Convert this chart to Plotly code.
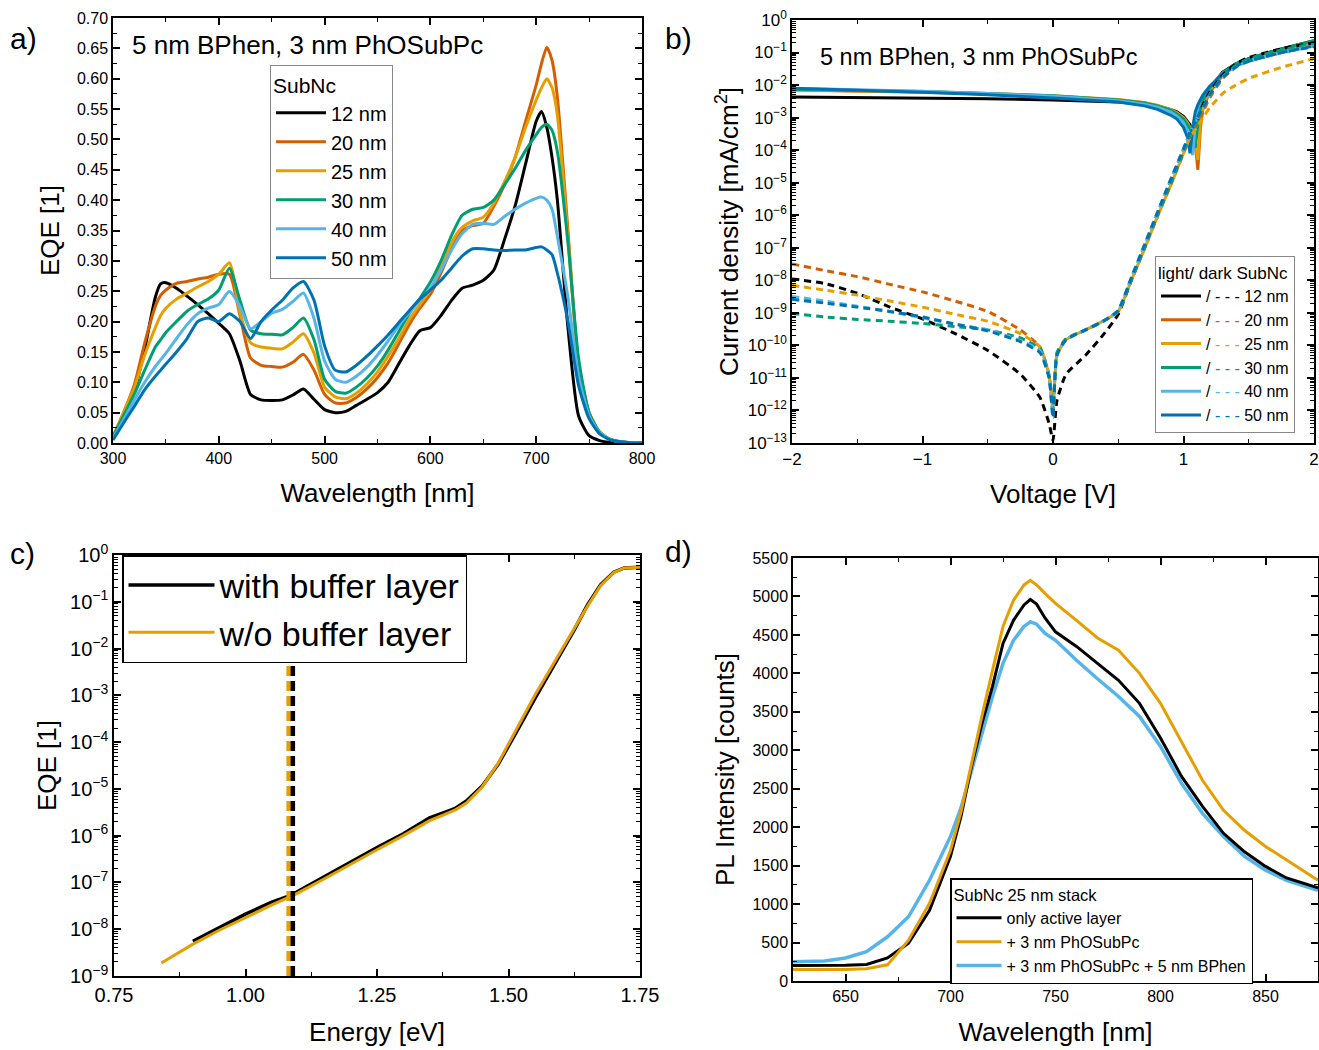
import plotly.graph_objects as go

# ---------------- Panel a: EQE spectra ----------------
wl_a = [300, 310, 320, 330, 340, 345, 350, 360, 370, 380, 390, 400, 410, 420, 430, 440, 450, 460, 470, 480,
        490, 500, 510, 520, 530, 540, 550, 560, 570, 580, 590, 600, 610, 620, 630, 640, 650, 660, 670, 680,
        690, 700, 705, 710, 715, 720, 730, 740, 750, 760, 770, 780, 790, 800]
eqe_12 = [0.01, 0.045, 0.085, 0.155, 0.24, 0.262, 0.264, 0.255, 0.242, 0.228, 0.213, 0.197, 0.18, 0.135, 0.08, 0.071, 0.07, 0.071, 0.079, 0.089,
          0.072, 0.055, 0.05, 0.052, 0.062, 0.072, 0.083, 0.10, 0.13, 0.16, 0.185, 0.19, 0.21, 0.235, 0.255, 0.26, 0.268, 0.285, 0.335, 0.39,
          0.46, 0.53, 0.546, 0.52, 0.47, 0.40, 0.19, 0.045, 0.012, 0.004, 0.001, 0.0, 0.0, 0.0]
eqe_20 = [0.01, 0.05, 0.095, 0.165, 0.225, 0.243, 0.252, 0.263, 0.266, 0.27, 0.273, 0.278, 0.278, 0.21, 0.14, 0.128, 0.126, 0.125, 0.133, 0.146,
          0.12, 0.08, 0.066, 0.066, 0.075, 0.089, 0.108, 0.132, 0.163, 0.195, 0.222, 0.245, 0.28, 0.32, 0.35, 0.358, 0.362, 0.39, 0.425, 0.47,
          0.53, 0.59, 0.625, 0.652, 0.63, 0.57, 0.35, 0.13, 0.05, 0.018, 0.006, 0.002, 0.0005, 0.0]
eqe_25 = [0.01, 0.05, 0.09, 0.145, 0.19, 0.21, 0.222, 0.237, 0.247, 0.257, 0.266, 0.278, 0.297, 0.215, 0.165, 0.158, 0.156, 0.155, 0.166, 0.18,
          0.148, 0.092, 0.076, 0.073, 0.082, 0.097, 0.117, 0.143, 0.172, 0.203, 0.228, 0.252, 0.29, 0.33, 0.355, 0.366, 0.372, 0.395, 0.43, 0.47,
          0.52, 0.565, 0.585, 0.60, 0.585, 0.54, 0.34, 0.13, 0.05, 0.018, 0.006, 0.002, 0.0005, 0.0]
eqe_30 = [0.01, 0.045, 0.08, 0.12, 0.158, 0.17, 0.182, 0.2, 0.217, 0.228, 0.237, 0.252, 0.288, 0.235, 0.186, 0.18, 0.179, 0.178, 0.19, 0.206,
          0.17, 0.105, 0.085, 0.082, 0.092, 0.107, 0.127, 0.153, 0.183, 0.213, 0.238, 0.265, 0.30, 0.342, 0.375, 0.385, 0.388, 0.40, 0.425, 0.452,
          0.482, 0.508, 0.52, 0.525, 0.515, 0.48, 0.33, 0.14, 0.05, 0.018, 0.006, 0.002, 0.0005, 0.0]
eqe_40 = [0.008, 0.038, 0.07, 0.10, 0.126, 0.137, 0.148, 0.172, 0.195, 0.213, 0.222, 0.228, 0.25, 0.225, 0.188, 0.20, 0.214, 0.22, 0.233, 0.247,
          0.205, 0.135, 0.105, 0.10, 0.11, 0.125, 0.145, 0.168, 0.193, 0.215, 0.235, 0.255, 0.285, 0.318, 0.345, 0.36, 0.362, 0.36, 0.373, 0.385,
          0.395, 0.403, 0.405, 0.40, 0.385, 0.34, 0.24, 0.11, 0.045, 0.017, 0.006, 0.002, 0.0005, 0.0]
eqe_50 = [0.005, 0.033, 0.06, 0.088, 0.11, 0.12, 0.13, 0.15, 0.172, 0.20, 0.206, 0.20, 0.213, 0.20, 0.172, 0.20, 0.219, 0.235, 0.255, 0.266,
          0.235, 0.16, 0.12, 0.117, 0.128, 0.143, 0.16, 0.178, 0.198, 0.218, 0.237, 0.252, 0.268, 0.288, 0.308, 0.32, 0.32, 0.318, 0.317, 0.318,
          0.318, 0.322, 0.323, 0.318, 0.31, 0.28, 0.20, 0.095, 0.04, 0.015, 0.005, 0.002, 0.0005, 0.0]
a_names = ["12 nm", "20 nm", "25 nm", "30 nm", "40 nm", "50 nm"]
a_series = [eqe_12, eqe_20, eqe_25, eqe_30, eqe_40, eqe_50]
colors6 = ["#000000", "#D55E00", "#E69F00", "#009E73", "#56B4E9", "#0072B2"]

# ---------------- Panel b: J-V curves ----------------
v_light = [-2.0, -1.5, -1.0, -0.5, 0.0, 0.5, 0.7, 0.8, 0.9, 0.95, 1.0, 1.03, 1.05, 1.07, 1.09, 1.11, 1.13, 1.15,
           1.2, 1.3, 1.4, 1.5, 1.75, 2.0]
j_light_12 = [4.3e-3, 4.2e-3, 4.0e-3, 3.8e-3, 3.5e-3, 3.0e-3, 2.6e-3, 2.3e-3, 1.8e-3, 1.5e-3, 1.1e-3, 8e-4, 6e-4, 3.5e-4, 2.5e-4, 9e-4, 2e-3, 3.5e-3,
              8e-3, 2.5e-2, 4.5e-2, 6.5e-2, 1.3e-1, 2.3e-1]
j_light_20 = [7e-3, 6.5e-3, 6e-3, 5.3e-3, 4.5e-3, 3.5e-3, 2.8e-3, 2.3e-3, 1.7e-3, 1.3e-3, 9e-4, 6e-4, 4.5e-4, 3e-4, 1.5e-4, 2.5e-5, 5e-4, 2e-3,
              6e-3, 2e-2, 4e-2, 6e-2, 1.2e-1, 2.2e-1]
j_light_25 = [7e-3, 6.7e-3, 6.2e-3, 5.5e-3, 4.7e-3, 3.6e-3, 2.9e-3, 2.4e-3, 1.8e-3, 1.4e-3, 1e-3, 7e-4, 5e-4, 3.5e-4, 2e-4, 5e-5, 8e-4, 2.5e-3,
              7e-3, 2.2e-2, 4.2e-2, 6e-2, 1.2e-1, 2.1e-1]
j_light_30 = [7.5e-3, 7e-3, 6.3e-3, 5.5e-3, 4.7e-3, 3.5e-3, 2.8e-3, 2.3e-3, 1.7e-3, 1.3e-3, 9e-4, 6e-4, 4.5e-4, 3e-4, 1.2e-4, 6e-4, 2e-3, 3.5e-3,
              8e-3, 2.4e-2, 4.5e-2, 6.5e-2, 1.3e-1, 2.3e-1]
j_light_40 = [8e-3, 7.3e-3, 6.5e-3, 5.5e-3, 4.5e-3, 3.3e-3, 2.6e-3, 2.1e-3, 1.5e-3, 1.1e-3, 7e-4, 4e-4, 2.5e-4, 7e-5, 6e-4, 2e-3, 3.5e-3, 5e-3,
              9e-3, 2.2e-2, 4e-2, 5.5e-2, 1e-1, 1.7e-1]
j_light_50 = [8e-3, 7e-3, 6e-3, 5e-3, 4e-3, 3e-3, 2.3e-3, 1.8e-3, 1.2e-3, 9e-4, 5e-4, 2.5e-4, 8e-5, 5e-4, 1.5e-3, 2.5e-3, 3.5e-3, 5e-3,
              9e-3, 2.2e-2, 4e-2, 5.5e-2, 1e-1, 1.6e-1]
v_dark = [-2.0, -1.75, -1.5, -1.25, -1.0, -0.75, -0.5, -0.25, -0.1, -0.03, 0.0, 0.03, 0.1, 0.25, 0.4, 0.5, 0.6, 0.7, 0.8, 0.9,
          1.0, 1.05, 1.1, 1.15, 1.2, 1.3, 1.4, 1.5, 1.75, 2.0]
j_dark_12 = [1.1e-8, 8e-9, 4e-9, 1.5e-9, 6.5e-10, 2.3e-10, 7e-11, 1.3e-11, 2.5e-12, 4e-13, 1.2e-13, 2e-12, 1.3e-11, 5e-11, 2.5e-10, 9e-10, 1e-8, 1e-7, 1e-6, 1e-5,
             1e-4, 3e-4, 8e-4, 2.5e-3, 6e-3, 2e-2, 4.5e-2, 7e-2, 1.3e-1, 2e-1]
j_dark_20 = [3.2e-8, 2e-8, 1.3e-8, 7.5e-9, 4.4e-9, 2.3e-9, 1.1e-9, 3e-10, 9e-11, 1.2e-11, 1e-12, 5e-11, 1.5e-10, 3e-10, 6e-10, 1.1e-9, 1e-8, 9e-8, 9e-7, 8e-6,
             8e-5, 2.5e-4, 6e-4, 1.5e-3, 4e-3, 1.6e-2, 3.5e-2, 6e-2, 1.1e-1, 1.8e-1]
j_dark_25 = [7e-9, 5e-9, 3.5e-9, 2.3e-9, 1.5e-9, 9e-10, 5.5e-10, 2.3e-10, 9e-11, 1.2e-11, 1e-12, 5e-11, 1.5e-10, 3e-10, 6e-10, 1.1e-9, 1e-8, 9e-8, 9e-7, 8e-6,
             8e-5, 2.5e-4, 5e-4, 1e-3, 2e-3, 5.5e-3, 1e-2, 1.6e-2, 3.5e-2, 6.5e-2]
j_dark_30 = [9.5e-10, 7.5e-10, 6.3e-10, 5.5e-10, 4.7e-10, 3.8e-10, 3e-10, 1.7e-10, 8e-11, 1.2e-11, 1e-12, 6e-11, 1.6e-10, 3e-10, 6e-10, 1.1e-9, 1e-8, 1e-7, 1e-6, 9e-6,
             9e-5, 3e-4, 8e-4, 2e-3, 5e-3, 1.8e-2, 4e-2, 6.5e-2, 1.2e-1, 1.9e-1]
j_dark_40 = [3.2e-9, 2.3e-9, 1.6e-9, 1.1e-9, 7e-10, 4.5e-10, 3e-10, 1.4e-10, 7e-11, 1e-11, 6e-13, 5e-11, 1.5e-10, 3e-10, 6e-10, 1.2e-9, 1.2e-8, 1.2e-7, 1.2e-6, 1.2e-5,
             1.1e-4, 3.5e-4, 9e-4, 2e-3, 5e-3, 1.7e-2, 3.6e-2, 5.5e-2, 1e-1, 1.6e-1]
j_dark_50 = [2.6e-9, 2e-9, 1.5e-9, 1.1e-9, 7.5e-10, 4.5e-10, 2.8e-10, 1.3e-10, 6e-11, 1e-11, 6e-13, 5e-11, 1.5e-10, 3e-10, 6e-10, 1.2e-9, 1.2e-8, 1.2e-7, 1.2e-6, 1.2e-5,
             1.1e-4, 3.5e-4, 9e-4, 2e-3, 5e-3, 1.7e-2, 3.6e-2, 5.5e-2, 1e-1, 1.5e-1]
b_light = [j_light_12, j_light_20, j_light_25, j_light_30, j_light_40, j_light_50]
b_dark = [j_dark_12, j_dark_20, j_dark_25, j_dark_30, j_dark_40, j_dark_50]
b_decades = list(range(-13, 1))

# ---------------- Panel c: EQE vs energy (log) ----------------
e_wo = [0.84, 0.86, 0.88, 0.90, 0.95, 1.00, 1.05, 1.08, 1.10, 1.15, 1.20, 1.25, 1.30, 1.35, 1.38, 1.40, 1.42, 1.45, 1.48,
        1.50, 1.525, 1.55, 1.575, 1.60, 1.625, 1.65, 1.675, 1.70, 1.72, 1.75]
eqe_wo = [1.9e-9, 2.6e-9, 3.5e-9, 4.8e-9, 9.5e-9, 1.8e-8, 3.3e-8, 4.7e-8, 6e-8, 1.2e-7, 2.5e-7, 5e-7, 1e-6, 2.1e-6, 2.9e-6, 3.6e-6, 5e-6, 1.1e-5, 3.5e-5,
          9e-5, 3e-4, 1e-3, 3e-3, 9e-3, 2.6e-2, 8e-2, 2.2e-1, 4.2e-1, 5.3e-1, 5.5e-1]
e_with = [0.90, 0.95, 1.00, 1.05, 1.09, 1.10, 1.15, 1.20, 1.25, 1.30, 1.35, 1.38, 1.40, 1.42, 1.45, 1.48,
          1.50, 1.525, 1.55, 1.575, 1.60, 1.625, 1.65, 1.675, 1.70, 1.72, 1.75]
eqe_with = [5.5e-9, 1.1e-8, 2.1e-8, 3.8e-8, 5.5e-8, 6.5e-8, 1.35e-7, 2.8e-7, 5.6e-7, 1.1e-6, 2.4e-6, 3.2e-6, 3.9e-6, 5.5e-6, 1.15e-5, 3.3e-5,
            8e-5, 2.6e-4, 8.5e-4, 2.6e-3, 8e-3, 2.5e-2, 8.5e-2, 2.3e-1, 4.3e-1, 5.3e-1, 5.5e-1]
e_onset = {"w/o buffer layer": 1.082, "with buffer layer": 1.090}
c_decades = list(range(-9, 1))

# ---------------- Panel d: PL spectra ----------------
wl_d = [625, 640, 650, 660, 670, 680, 690, 695, 700, 705, 710, 715, 720, 725, 730, 735, 738, 741, 745, 750,
        760, 770, 780, 790, 800, 810, 820, 830, 840, 850, 860, 875]
pl_active = [200, 200, 205, 215, 300, 490, 920, 1270, 1620, 2140, 2790, 3350, 3830, 4390, 4690, 4890, 4960, 4900, 4720, 4540,
             4350, 4130, 3910, 3610, 3160, 2660, 2270, 1920, 1680, 1490, 1340, 1210]
pl_phosubpc = [150, 150, 150, 160, 210, 530, 1010, 1350, 1700, 2200, 2830, 3450, 4040, 4610, 4950, 5150, 5210, 5150, 5040, 4910,
               4690, 4460, 4300, 4000, 3610, 3110, 2610, 2220, 1960, 1750, 1570, 1310]
pl_bphen = [250, 260, 300, 380, 575, 835, 1310, 1600, 1880, 2250, 2740, 3200, 3700, 4130, 4430, 4610, 4670, 4640, 4520, 4430,
            4170, 3930, 3700, 3440, 3050, 2570, 2180, 1880, 1620, 1440, 1310, 1180]

FONT = "Liberation Sans, Arial, sans-serif"
W, H = 1319, 1050


def dom_x(left, right):
    return [left / W, right / W]


def dom_y(top, bottom):
    return [1 - bottom / H, 1 - top / H]


def pow_label(d):
    return "10<sup>%s</sup>" % (str(d).replace("-", "\u2212"))


fig = go.Figure()

# panel a traces
for name, ys, col in zip(a_names, a_series, colors6):
    fig.add_trace(go.Scatter(x=wl_a, y=ys, mode="lines", name=name, line=dict(color=col, width=3, shape="spline", smoothing=0.6),
                             xaxis="x", yaxis="y", legend="legend"))

# panel b traces
for name, ys, col in zip(a_names, b_light, colors6):
    label = "/ <span style='color:%s'>- - -</span> %s" % (col, name)
    fig.add_trace(go.Scatter(x=v_light, y=ys, mode="lines", name=label, line=dict(color=col, width=3),
                             xaxis="x2", yaxis="y2", legend="legend2"))
for name, ys, col in zip(a_names, b_dark, colors6):
    fig.add_trace(go.Scatter(x=v_dark, y=ys, mode="lines", name=name + " dark", showlegend=False,
                             line=dict(color=col, width=3, dash="7px,5px", shape="spline", smoothing=0.5),
                             xaxis="x2", yaxis="y2"))

# panel c traces
fig.add_trace(go.Scatter(x=e_with, y=eqe_with, mode="lines", name="with buffer layer", line=dict(color="#000000", width=3.5),
                         xaxis="x3", yaxis="y3", legend="legend3"))
fig.add_trace(go.Scatter(x=e_wo, y=eqe_wo, mode="lines", name="w/o buffer layer", line=dict(color="#E69F00", width=3),
                         xaxis="x3", yaxis="y3", legend="legend3"))
for lab, col in [("w/o buffer layer", "#E69F00"), ("with buffer layer", "#000000")]:
    e0 = e_onset[lab]
    fig.add_trace(go.Scatter(x=[e0, e0], y=[1e-9, 1.0], mode="lines", showlegend=False,
                             line=dict(color=col, width=4.5, dash="10px,5px"), xaxis="x3", yaxis="y3"))

# panel d traces
fig.add_trace(go.Scatter(x=wl_d, y=pl_bphen, mode="lines", name="+ 3 nm PhOSubPc + 5 nm BPhen", legendrank=3,
                         line=dict(color="#56B4E9", width=3.5), xaxis="x4", yaxis="y4", legend="legend4"))
fig.add_trace(go.Scatter(x=wl_d, y=pl_active, mode="lines", name="only active layer", legendrank=1,
                         line=dict(color="#000000", width=3), xaxis="x4", yaxis="y4", legend="legend4"))
fig.add_trace(go.Scatter(x=wl_d, y=pl_phosubpc, mode="lines", name="+ 3 nm PhOSubPc", legendrank=2,
                         line=dict(color="#E69F00", width=3), xaxis="x4", yaxis="y4", legend="legend4"))


def axis(tsize=16, **kw):
    base = dict(showline=True, linecolor="black", linewidth=1.5, mirror="allticks", ticks="inside", ticklen=7,
                tickwidth=1.5, tickcolor="black", showgrid=False, zeroline=False,
                tickfont=dict(family=FONT, size=tsize, color="black"),
                title_font=dict(family=FONT, size=26, color="black"), automargin=False)
    base.update(kw)
    return base


minor_lin = lambda d: dict(ticks="inside", ticklen=4, tickwidth=1.2, tickcolor="black", dtick=d, showgrid=False)
minor_log = dict(ticks="inside", ticklen=4, tickwidth=1.0, tickcolor="black", dtick="D1", showgrid=False)

fig.update_layout(
    width=W, height=H, margin=dict(l=0, r=0, t=0, b=0),
    paper_bgcolor="white", plot_bgcolor="white", showlegend=True,
    font=dict(family=FONT, color="black"),
    xaxis=axis(domain=dom_x(113, 642), anchor="y", range=[300, 800], dtick=100, minor=minor_lin(50),
               title=dict(text="Wavelength [nm]", standoff=18)),
    yaxis=axis(domain=dom_y(18, 443), anchor="x", range=[0, 0.7], dtick=0.05, tickformat=".2f", minor=minor_lin(0.025),
               title=dict(text="EQE [1]", standoff=10)),
    xaxis2=axis(tsize=17, domain=dom_x(792, 1314), anchor="y2", range=[-2, 2], dtick=1, minor=minor_lin(0.5),
                title=dict(text="Voltage [V]", standoff=17)),
    yaxis2=axis(tsize=17, domain=dom_y(20, 443), anchor="x2", type="log", range=[-13, 0],
                tickvals=[10.0 ** d for d in b_decades], ticktext=[pow_label(d) for d in b_decades],
                minor=minor_log, title=dict(text="Current density [mA/cm<sup>2</sup>]", standoff=2)),
    xaxis3=axis(tsize=20, domain=dom_x(114, 640), anchor="y3", range=[0.75, 1.75], dtick=0.25, tickformat=".2f",
                minor=minor_lin(0.125), title=dict(text="Energy [eV]", standoff=18)),
    yaxis3=axis(tsize=20, domain=dom_y(555, 976), anchor="x3", type="log", range=[-9, 0],
                tickvals=[10.0 ** d for d in c_decades], ticktext=[pow_label(d) for d in c_decades],
                minor=minor_log, title=dict(text="EQE [1]", standoff=6)),
    xaxis4=axis(domain=dom_x(793, 1318), anchor="y4", range=[625, 875], tick0=650, dtick=50, minor=minor_lin(25),
                title=dict(text="Wavelength [nm]", standoff=19)),
    yaxis4=axis(domain=dom_y(558, 981), anchor="x4", range=[0, 5500], dtick=500, minor=minor_lin(250),
                title=dict(text="PL Intensity [counts]", standoff=10)),
    legend=dict(x=270 / W, y=1 - 65 / H, xanchor="left", yanchor="top", bgcolor="white", bordercolor="#888888", borderwidth=1,
                font=dict(family=FONT, size=20, color="black"), title=dict(text="SubNc", font=dict(family=FONT, size=21)),
                itemwidth=50, tracegroupgap=0),
    legend2=dict(x=1155 / W, y=1 - 256 / H, xanchor="left", yanchor="top", bgcolor="white", bordercolor="#888888", borderwidth=1,
                 font=dict(family=FONT, size=16, color="black"), title=dict(text="light/ dark SubNc", font=dict(family=FONT, size=17)),
                 itemwidth=40, tracegroupgap=0),
    legend3=dict(x=122 / W, y=1 - 555 / H, xanchor="left", yanchor="top", bgcolor="white", bordercolor="black", borderwidth=1.5,
                 font=dict(family=FONT, size=34, color="black"), itemwidth=86, tracegroupgap=0),
    legend4=dict(x=950 / W, y=1 - 878 / H, xanchor="left", yanchor="top", bgcolor="white", bordercolor="black", borderwidth=1.5,
                 font=dict(family=FONT, size=16, color="black"), title=dict(text="SubNc 25 nm stack", font=dict(family=FONT, size=16.5)),
                 itemwidth=45, tracegroupgap=0, traceorder="normal"),
    annotations=[
        dict(text="a)", x=8 / W, y=1 - 38 / H, xref="paper", yref="paper", xanchor="left", yanchor="middle", showarrow=False,
             font=dict(family=FONT, size=30)),
        dict(text="b)", x=663 / W, y=1 - 38 / H, xref="paper", yref="paper", xanchor="left", yanchor="middle", showarrow=False,
             font=dict(family=FONT, size=30)),
        dict(text="c)", x=8 / W, y=1 - 553 / H, xref="paper", yref="paper", xanchor="left", yanchor="middle", showarrow=False,
             font=dict(family=FONT, size=30)),
        dict(text="d)", x=663 / W, y=1 - 551 / H, xref="paper", yref="paper", xanchor="left", yanchor="middle", showarrow=False,
             font=dict(family=FONT, size=30)),
        dict(text="5 nm BPhen, 3 nm PhOSubPc", x=130 / W, y=1 - 45 / H, xref="paper", yref="paper", xanchor="left",
             yanchor="middle", showarrow=False, font=dict(family=FONT, size=26)),
        dict(text="5 nm BPhen, 3 nm PhOSubPc", x=818 / W, y=1 - 57 / H, xref="paper", yref="paper", xanchor="left",
             yanchor="middle", showarrow=False, font=dict(family=FONT, size=23.5)),
    ],
)

fig.write_html("out.html", config={"displayModeBar": False}, post_script="document.body.style.margin='0';")
